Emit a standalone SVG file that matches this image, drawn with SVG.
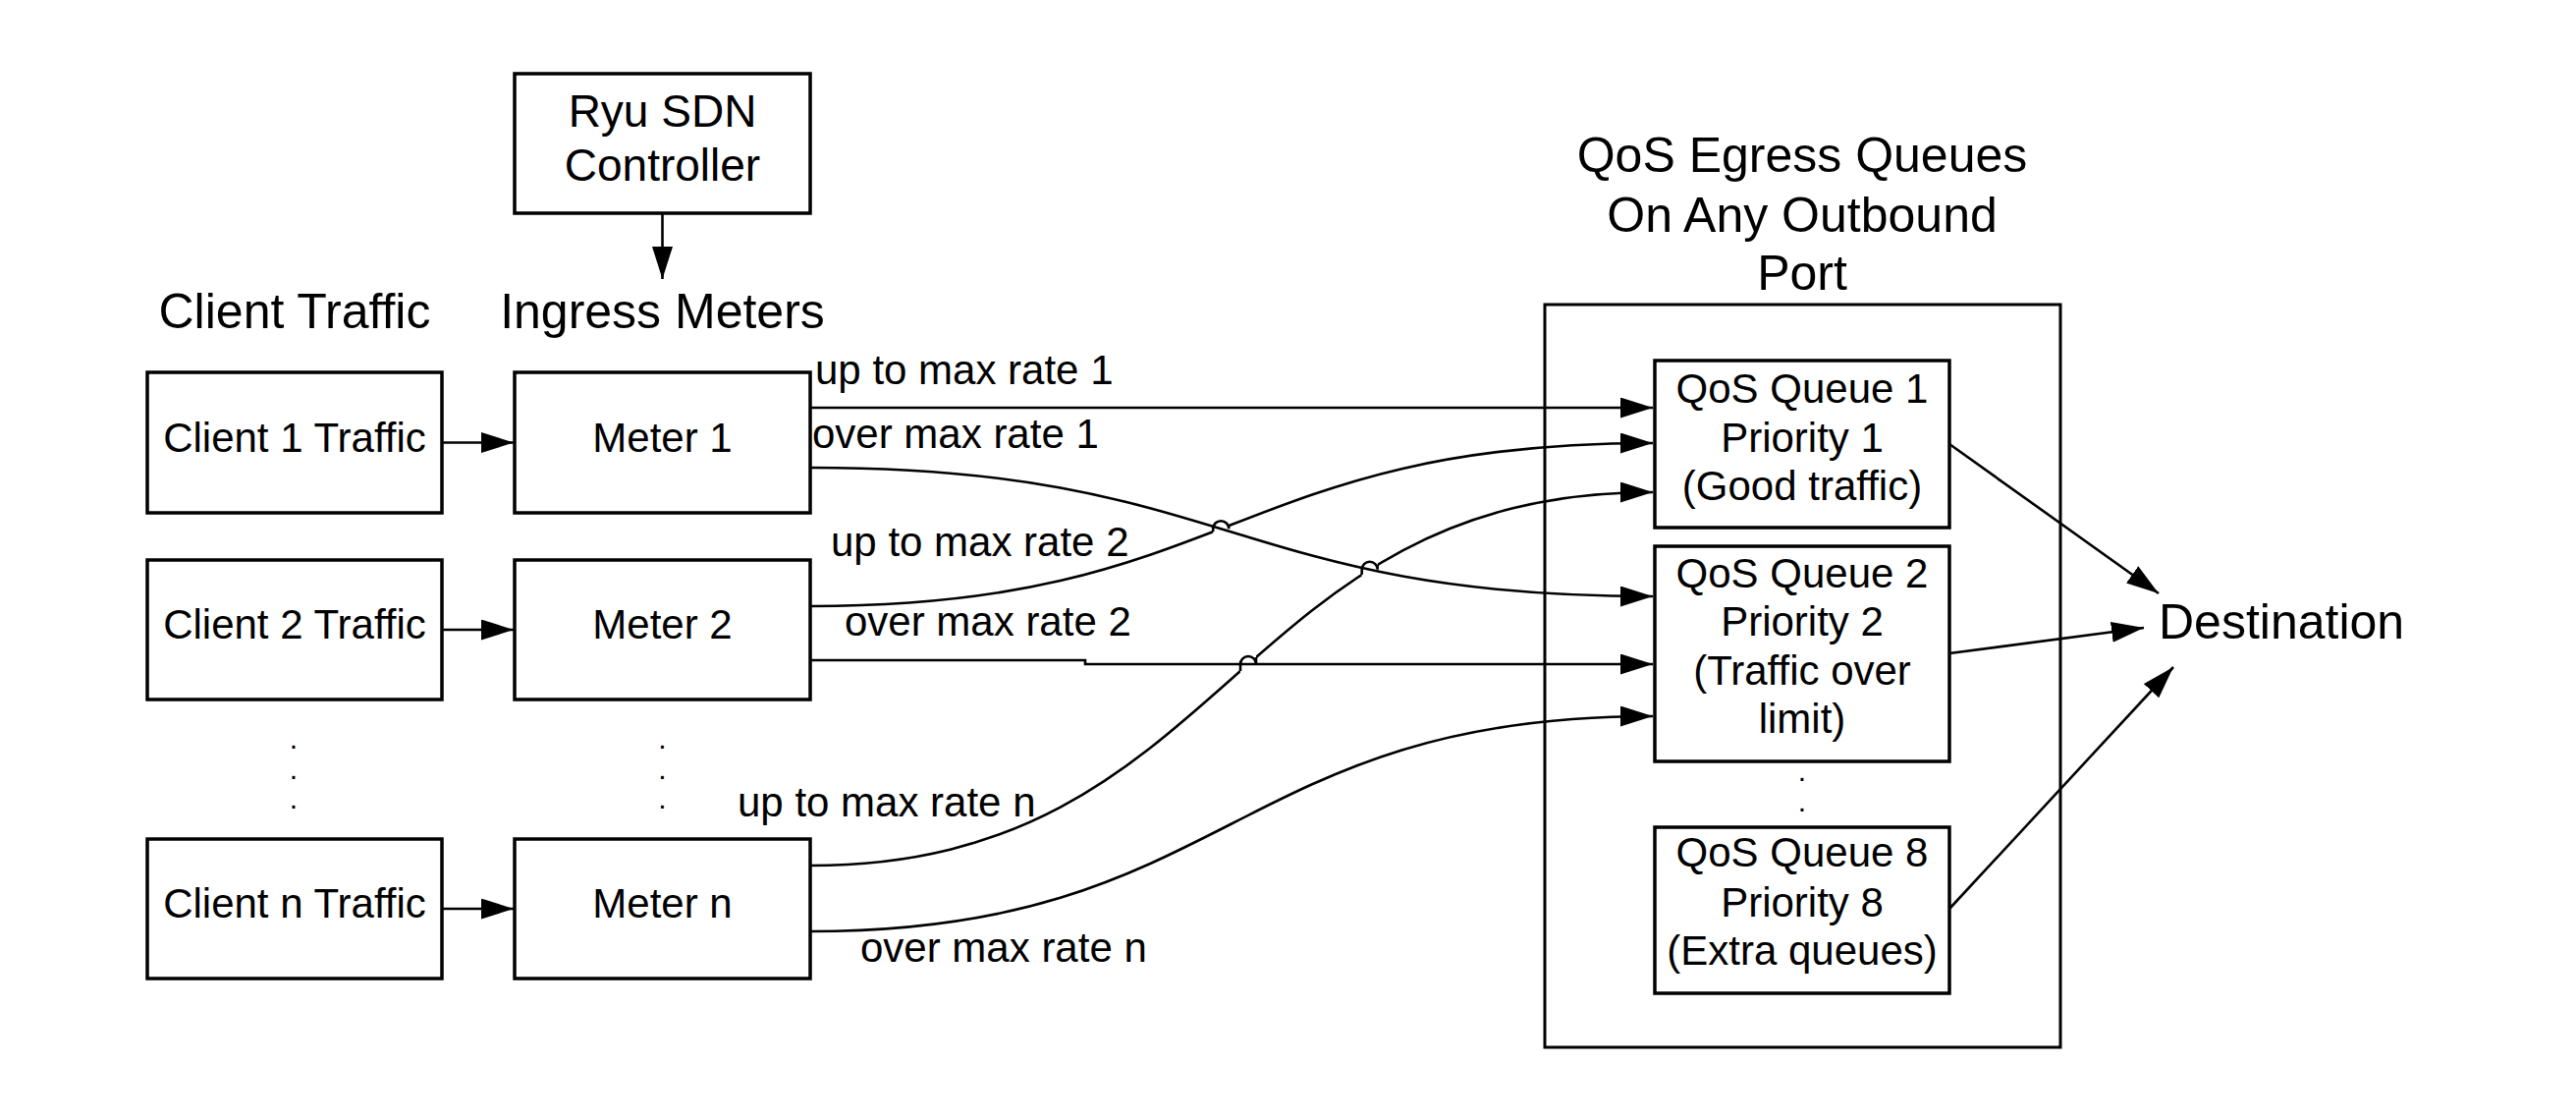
<svg xmlns="http://www.w3.org/2000/svg" width="2623" height="1140" viewBox="0 0 2623 1140">
<style>
  .box { fill: #ffffff; stroke: #000000; stroke-width: 3.5; }
  .outer { fill: none; stroke: #000000; stroke-width: 3; }
  .t { font-family: "Liberation Sans", Arial, sans-serif; font-size: 42px; fill: #000000; text-anchor: middle; }
  .dot { font-family: "Liberation Sans", Arial, sans-serif; font-size: 30px; fill: #000000; text-anchor: middle; }
  .big { font-family: "Liberation Sans", Arial, sans-serif; font-size: 50px; fill: #000000; text-anchor: middle; }
  .ryu { font-family: "Liberation Sans", Arial, sans-serif; font-size: 46px; fill: #000000; text-anchor: middle; }
  .lbl { font-family: "Liberation Sans", Arial, sans-serif; font-size: 42px; fill: #000000; }
  .c { fill: none; stroke: #000000; stroke-width: 2.6; }
  .ca { fill: none; stroke: #000000; stroke-width: 2.6; marker-end: url(#arr); }
</style>
<defs>
  <marker id="arr" markerUnits="userSpaceOnUse" markerWidth="34" markerHeight="22" refX="33" refY="10.5" orient="auto" viewBox="0 0 34 22">
    <path d="M0,0 L33,10.5 L0,21 Z" fill="#000000"/>
  </marker>
  <clipPath id="clipUp2">
    <rect x="0" y="0" width="1235.2" height="1140"/>
    <rect x="1251.2" y="0" width="1371.8" height="1140"/>
  </clipPath>
  <clipPath id="clipUpN">
    <rect x="0" y="0" width="1263" height="1140"/>
    <rect x="1279" y="0" width="107.7" height="1140"/>
    <rect x="1402.7" y="0" width="1220.3" height="1140"/>
  </clipPath>
</defs>
<rect width="2623" height="1140" fill="#ffffff"/>

<g id="title-client">
  <text class="big" x="300" y="334">Client Traffic</text>
</g>
<g id="title-meters">
  <text class="big" x="674.5" y="334">Ingress Meters</text>
</g>
<g id="title-qos">
  <text class="big" x="1835" y="175">QoS Egress Queues</text>
  <text class="big" x="1835" y="236">On Any Outbound</text>
  <text class="big" x="1835" y="295">Port</text>
</g>

<g id="ryu">
  <rect class="box" x="524" y="75" width="301" height="142"/>
  <text class="ryu" x="674.5" y="129">Ryu SDN</text>
  <text class="ryu" x="674.5" y="184">Controller</text>
</g>

<g id="client1">
  <rect class="box" x="150" y="379" width="300" height="143"/>
  <text class="t" x="300" y="460">Client 1 Traffic</text>
</g>
<g id="client2">
  <rect class="box" x="150" y="570" width="300" height="142"/>
  <text class="t" x="300" y="650">Client 2 Traffic</text>
</g>
<g id="client-dots">
  <text class="dot" x="299" y="762">.</text>
  <text class="dot" x="299" y="793">.</text>
  <text class="dot" x="299" y="823">.</text>
</g>
<g id="clientn">
  <rect class="box" x="150" y="854" width="300" height="142"/>
  <text class="t" x="300" y="934">Client n Traffic</text>
</g>

<g id="meter1">
  <rect class="box" x="524" y="379" width="301" height="143"/>
  <text class="t" x="674.5" y="460">Meter 1</text>
</g>
<g id="meter2">
  <rect class="box" x="524" y="570" width="301" height="142"/>
  <text class="t" x="674.5" y="650">Meter 2</text>
</g>
<g id="meter-dots">
  <text class="dot" x="674.5" y="762">.</text>
  <text class="dot" x="674.5" y="793">.</text>
  <text class="dot" x="674.5" y="823">.</text>
</g>
<g id="metern">
  <rect class="box" x="524" y="854" width="301" height="142"/>
  <text class="t" x="674.5" y="934">Meter n</text>
</g>

<g id="qos-port">
  <rect class="outer" x="1573" y="310" width="525" height="756"/>
</g>
<g id="queue1">
  <rect class="box" x="1685" y="367" width="300" height="170"/>
  <text class="t" x="1835" y="410">QoS Queue 1</text>
  <text class="t" x="1835" y="460">Priority 1</text>
  <text class="t" x="1835" y="509">(Good traffic)</text>
</g>
<g id="queue2">
  <rect class="box" x="1685" y="556" width="300" height="219"/>
  <text class="t" x="1835" y="598">QoS Queue 2</text>
  <text class="t" x="1835" y="647">Priority 2</text>
  <text class="t" x="1835" y="697">(Traffic over</text>
  <text class="t" x="1835" y="746">limit)</text>
</g>
<g id="queue-dots">
  <text class="dot" x="1835" y="795">.</text>
  <text class="dot" x="1835" y="826">.</text>
</g>
<g id="queue8">
  <rect class="box" x="1685" y="842" width="300" height="169"/>
  <text class="t" x="1835" y="882">QoS Queue 8</text>
  <text class="t" x="1835" y="933">Priority 8</text>
  <text class="t" x="1835" y="982">(Extra queues)</text>
</g>

<g id="destination">
  <text class="big" x="2198" y="650" style="text-anchor:start">Destination</text>
</g>

<g id="connectors">
  <path class="ca" d="M674.5,217 V284"/>
  <path class="ca" d="M450,450.5 H523"/>
  <path class="ca" d="M450,641 H523"/>
  <path class="ca" d="M450,925 H523"/>

  <path class="ca" d="M825,415 H1683"/>
  <path class="ca" d="M825,476 C1254,476 1254,607 1683,607"/>
  <path class="ca" d="M825,617 C1254,617 1254,451 1683,451" clip-path="url(#clipUp2)"/>
  <path class="c" d="M1235.2,541.3 V538.2 A8,8 0 0 1 1251.2,538.2 V535.1"/>
  <path class="ca" d="M825,672 H1105 V676 H1683"/>
  <path class="ca" d="M825,881 C1254,881 1254,501 1683,501" clip-path="url(#clipUpN)"/>
  <path class="c" d="M1263,683 V676 A8,8 0 0 1 1279,676 V669"/>
  <path class="c" d="M1386.7,584.8 V579.8 A8,8 0 0 1 1402.7,579.8 V574.8"/>
  <path class="ca" d="M825,948 C1254,948 1254,729 1683,729"/>

  <path class="ca" d="M1985,452 L2198,604"/>
  <path class="ca" d="M1985,665 L2183,639"/>
  <path class="ca" d="M1985,925 L2213,679"/>

  <text class="lbl" x="830" y="391">up to max rate 1</text>
  <text class="lbl" x="827" y="456">over max rate 1</text>
  <text class="lbl" x="846" y="566">up to max rate 2</text>
  <text class="lbl" x="860" y="647">over max rate 2</text>
  <text class="lbl" x="751" y="831">up to max rate n</text>
  <text class="lbl" x="876" y="979">over max rate n</text>
</g>
</svg>
